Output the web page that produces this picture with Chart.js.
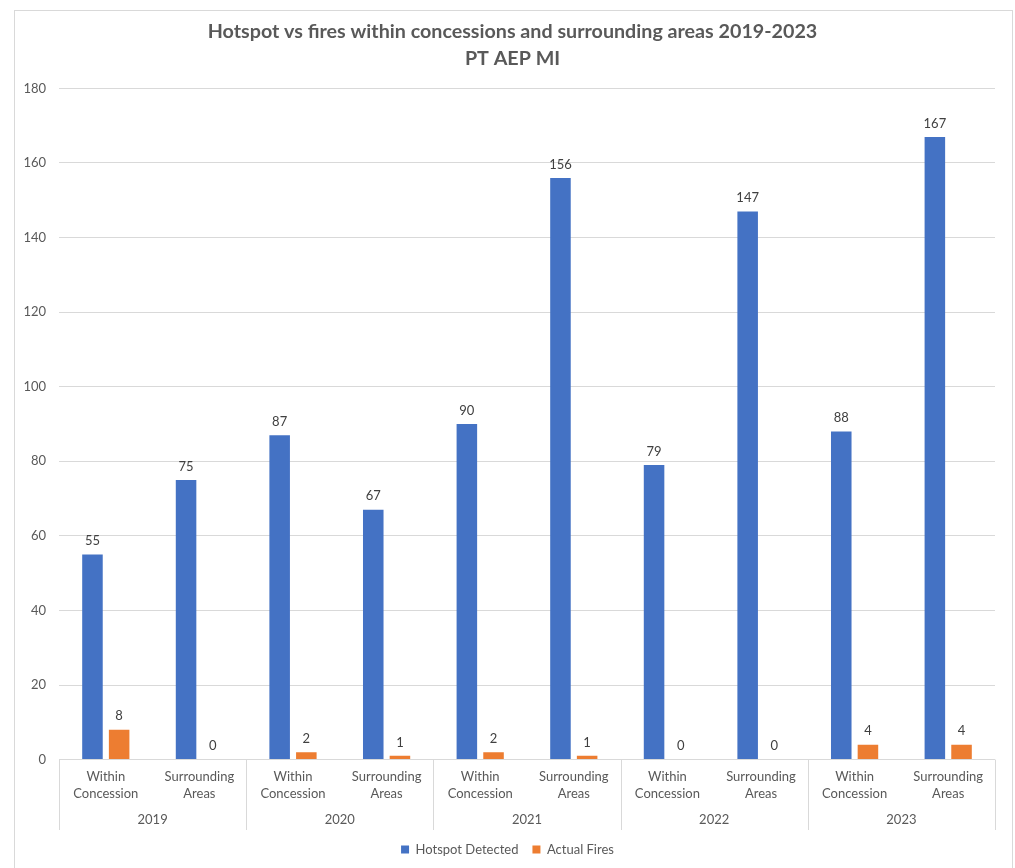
<!DOCTYPE html>
<html>
<head>
<meta charset="utf-8">
<script src="https://cdn.jsdelivr.net/npm/chart.js@4.4.1/dist/chart.umd.min.js"></script>
<style>
  body { margin: 0; background: #fff; }
  #marco { position: absolute; left: 14px; top: 10px; width: 997px; height: 870px; border: 1px solid #d9d9d9; }
  #grafica { position: absolute; left: 0; top: 0; }
</style>
</head>
<body>
<div id="marco"></div>
<canvas id="grafica" width="1015" height="868"></canvas>
<script>
// datos
const anios = ["2019", "2020", "2021", "2022", "2023"];
const categorias = [
  ["Within", "Concession"], ["Surrounding", "Areas"],
  ["Within", "Concession"], ["Surrounding", "Areas"],
  ["Within", "Concession"], ["Surrounding", "Areas"],
  ["Within", "Concession"], ["Surrounding", "Areas"],
  ["Within", "Concession"], ["Surrounding", "Areas"],
];
const hotspots = [55, 75, 87, 67, 90, 156, 79, 147, 88, 167];
const incendios = [8, 0, 2, 1, 2, 1, 0, 0, 4, 4];
const ticksY = [0, 20, 40, 60, 80, 100, 120, 140, 160, 180];

const fuente = "Lato, 'Open Sans', sans-serif";
const gris = "#595959";

/* etiquetas encima de cada barra */
const etiquetas = {
  id: "etiquetas",
  afterDatasetsDraw(chart) {
    const ctx = chart.ctx;
    ctx.save();
    ctx.font = `13px ${fuente}`;
    ctx.fillStyle = "#404040";
    ctx.textAlign = "center";
    ctx.textBaseline = "bottom";
    chart.data.datasets.forEach((ds, i) => {
      chart.getDatasetMeta(i).data.forEach((barra, j) => {
        ctx.fillText(String(ds.data[j]), barra.x, barra.y - 7);
      });
    });
    ctx.restore();
  },
};

/* lineas que separan los anios debajo del eje */
const separadores = {
  id: "separadores",
  afterLayout(chart) {
    // el titulo va un poco a la derecha, como en el original
    if (chart.titleBlock) {
      chart.titleBlock.left += 5;
      chart.titleBlock.right += 5;
    }
  },
  afterDraw(chart) {
    const x = chart.scales.x;
    const x2 = chart.scales.x2;
    const ancho = (x.right - x.left) / categorias.length;
    const ctx = chart.ctx;
    ctx.save();
    ctx.strokeStyle = "#d9d9d9";
    ctx.lineWidth = 1;
    for (let i = 0; i <= anios.length; i++) {
      const px = Math.round(x.left + i * 2 * ancho) + 0.5;
      ctx.beginPath();
      ctx.moveTo(px, chart.chartArea.bottom);
      ctx.lineTo(px, x2.bottom + 1);
      ctx.stroke();
    }
    ctx.restore();
  },
};

const contexto = document.getElementById("grafica").getContext("2d");

const grafica = new Chart(contexto, {
  type: "bar",
  data: {
    labels: categorias,
    datasets: [
      {
        label: "Hotspot Detected",
        data: hotspots,
        backgroundColor: "#4472C4",
        categoryPercentage: 0.57,
        barPercentage: 0.77,
      },
      {
        label: "Actual Fires",
        data: incendios,
        backgroundColor: "#ED7D31",
        categoryPercentage: 0.57,
        barPercentage: 0.77,
      },
    ],
  },
  options: {
    responsive: false,
    animation: false,
    layout: { padding: { left: 20, right: 20, top: 8, bottom: 2 } },
    plugins: {
      title: {
        display: true,
        text: ["Hotspot vs fires within concessions and surrounding areas 2019-2023", "PT AEP MI"],
        color: gris,
        font: { family: fuente, size: 19.7, weight: "bold", lineHeight: 1.33 },
        padding: { top: 11, bottom: 17 },
      },
      legend: {
        position: "bottom",
        labels: {
          color: gris,
          font: { family: fuente, size: 13 },
          boxWidth: 8,
          boxHeight: 8,
          padding: 14,
        },
      },
      tooltip: { enabled: false },
    },
    scales: {
      x: {
        grid: { display: false, drawTicks: false },
        border: { display: false },
        ticks: {
          color: gris,
          font: { family: fuente, size: 13, lineHeight: 1.3 },
          maxRotation: 0,
          autoSkip: false,
          padding: 9,
        },
      },
      x2: {
        type: "category",
        position: "bottom",
        labels: anios,
        grid: { display: false, drawTicks: false },
        border: { display: false },
        ticks: { color: gris, font: { family: fuente, size: 13 }, padding: 1 },
      },
      y: {
        min: 0,
        max: 180,
        afterBuildTicks(eje) {
          eje.ticks = ticksY.map((v) => ({ value: v }));
        },
        afterFit(eje) {
          eje.width = 39;
        },
        grid: { color: "#d9d9d9", drawTicks: false },
        border: { display: false },
        ticks: { color: gris, font: { family: fuente, size: 13 }, padding: 13 },
      },
    },
  },
  plugins: [etiquetas, separadores],
});
</script>
</body>
</html>
